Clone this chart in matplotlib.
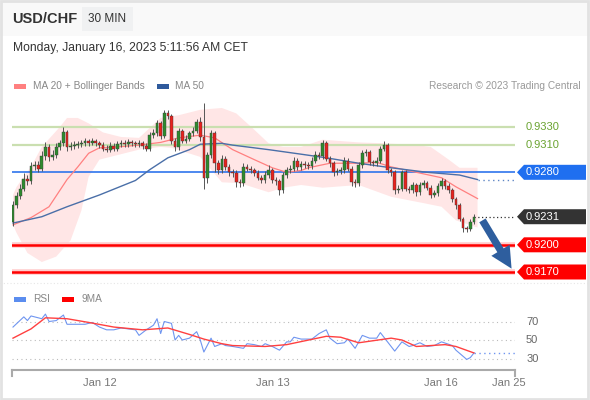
import matplotlib
matplotlib.use('Agg')
import matplotlib.pyplot as plt
import matplotlib.patches as patches
import matplotlib.transforms as mtransforms

plt.rcParams['font.family'] = ['Liberation Sans', 'DejaVu Sans']

W, H = 590, 400

# ---- candles (30 min bars, bar index 0 = Jan 11 ~12:00) ----
opens = [
    0.9225, 0.9244, 0.9254, 0.9262, 0.9273, 0.9270, 0.9287, 0.9288, 0.9284, 0.9298,
    0.9308, 0.9297, 0.9299, 0.9308, 0.9312, 0.9324, 0.9308, 0.9309, 0.9310, 0.9311,
    0.9312, 0.9314, 0.9312, 0.9314, 0.9312, 0.9310, 0.9306, 0.9305, 0.9309, 0.9306,
    0.9311, 0.9312, 0.9311, 0.9313, 0.9312, 0.9311, 0.9312, 0.9309, 0.9306, 0.9321,
    0.9323, 0.9334, 0.9320, 0.9345, 0.9342, 0.9315, 0.9308, 0.9326, 0.9315, 0.9317,
    0.9323, 0.9326, 0.9335, 0.9319, 0.9274, 0.9299, 0.9323, 0.9290, 0.9282, 0.9295,
    0.9286, 0.9280, 0.9279, 0.9269, 0.9268, 0.9286, 0.9284, 0.9282, 0.9279, 0.9274,
    0.9271, 0.9277, 0.9282, 0.9271, 0.9270, 0.9260, 0.9277, 0.9282, 0.9284, 0.9293,
    0.9286, 0.9289, 0.9288, 0.9287, 0.9293, 0.9299, 0.9298, 0.9312, 0.9295, 0.9290,
    0.9280, 0.9281, 0.9282, 0.9293, 0.9284, 0.9269, 0.9268, 0.9288, 0.9301, 0.9302,
    0.9291, 0.9290, 0.9293, 0.9306, 0.9310, 0.9282, 0.9280, 0.9260, 0.9262, 0.9280,
    0.9262, 0.9260, 0.9266, 0.9258, 0.9266, 0.9268, 0.9263, 0.9255, 0.9257, 0.9265,
    0.9270, 0.9265, 0.9260, 0.9250, 0.9244, 0.9229, 0.9218, 0.9217, 0.9225]
closes = [
    0.9244, 0.9254, 0.9262, 0.9273, 0.9270, 0.9287, 0.9288, 0.9284, 0.9298, 0.9308,
    0.9297, 0.9299, 0.9308, 0.9312, 0.9324, 0.9308, 0.9309, 0.9310, 0.9311, 0.9312,
    0.9314, 0.9312, 0.9314, 0.9312, 0.9310, 0.9306, 0.9305, 0.9309, 0.9306, 0.9311,
    0.9312, 0.9311, 0.9313, 0.9312, 0.9311, 0.9312, 0.9309, 0.9306, 0.9321, 0.9323,
    0.9334, 0.9320, 0.9345, 0.9342, 0.9315, 0.9308, 0.9326, 0.9315, 0.9317, 0.9323,
    0.9326, 0.9335, 0.9319, 0.9274, 0.9299, 0.9323, 0.9290, 0.9282, 0.9295, 0.9286,
    0.9280, 0.9279, 0.9269, 0.9268, 0.9286, 0.9284, 0.9282, 0.9279, 0.9274, 0.9271,
    0.9277, 0.9282, 0.9271, 0.9270, 0.9260, 0.9277, 0.9282, 0.9284, 0.9293, 0.9286,
    0.9289, 0.9288, 0.9287, 0.9293, 0.9299, 0.9298, 0.9312, 0.9295, 0.9290, 0.9280,
    0.9281, 0.9282, 0.9293, 0.9284, 0.9269, 0.9268, 0.9288, 0.9301, 0.9302, 0.9291,
    0.9290, 0.9293, 0.9306, 0.9310, 0.9282, 0.9280, 0.9260, 0.9262, 0.9280, 0.9262,
    0.9260, 0.9266, 0.9258, 0.9266, 0.9268, 0.9263, 0.9255, 0.9257, 0.9265, 0.9270,
    0.9265, 0.9260, 0.9250, 0.9244, 0.9229, 0.9218, 0.9217, 0.9225, 0.9231]
highs = [
    0.9248, 0.9258, 0.9267, 0.9279, 0.9277, 0.9291, 0.9293, 0.9292, 0.9303, 0.9313,
    0.9311, 0.9305, 0.9312, 0.9316, 0.9330, 0.9327, 0.9313, 0.9314, 0.9315, 0.9316,
    0.9318, 0.9317, 0.9318, 0.9317, 0.9315, 0.9313, 0.9310, 0.9313, 0.9312, 0.9315,
    0.9316, 0.9316, 0.9317, 0.9316, 0.9315, 0.9316, 0.9314, 0.9312, 0.9324, 0.9328,
    0.9338, 0.9337, 0.9349, 0.9349, 0.9344, 0.9318, 0.9329, 0.9328, 0.9321, 0.9326,
    0.9330, 0.9339, 0.9341, 0.9357, 0.9302, 0.9327, 0.9326, 0.9294, 0.9299, 0.9298,
    0.9289, 0.9284, 0.9282, 0.9273, 0.9290, 0.9289, 0.9287, 0.9285, 0.9282, 0.9277,
    0.9281, 0.9288, 0.9285, 0.9275, 0.9273, 0.9280, 0.9286, 0.9288, 0.9297, 0.9296,
    0.9293, 0.9292, 0.9291, 0.9297, 0.9303, 0.9302, 0.9316, 0.9314, 0.9298, 0.9293,
    0.9285, 0.9286, 0.9297, 0.9296, 0.9287, 0.9273, 0.9291, 0.9305, 0.9306, 0.9305,
    0.9294, 0.9297, 0.9309, 0.9315, 0.9312, 0.9285, 0.9283, 0.9266, 0.9283, 0.9282,
    0.9265, 0.9269, 0.9268, 0.9269, 0.9271, 0.9270, 0.9266, 0.9260, 0.9268, 0.9274,
    0.9273, 0.9268, 0.9263, 0.9253, 0.9246, 0.9231, 0.9221, 0.9228, 0.9234]
lows = [
    0.9221, 0.9241, 0.9251, 0.9259, 0.9266, 0.9267, 0.9282, 0.9280, 0.9281, 0.9294,
    0.9293, 0.9294, 0.9296, 0.9305, 0.9309, 0.9304, 0.9305, 0.9306, 0.9307, 0.9308,
    0.9309, 0.9309, 0.9310, 0.9309, 0.9307, 0.9303, 0.9302, 0.9302, 0.9303, 0.9303,
    0.9308, 0.9308, 0.9308, 0.9309, 0.9308, 0.9308, 0.9306, 0.9303, 0.9304, 0.9318,
    0.9320, 0.9317, 0.9318, 0.9339, 0.9311, 0.9304, 0.9305, 0.9312, 0.9312, 0.9314,
    0.9320, 0.9323, 0.9315, 0.9262, 0.9268, 0.9296, 0.9280, 0.9278, 0.9279, 0.9283,
    0.9276, 0.9275, 0.9264, 0.9264, 0.9265, 0.9281, 0.9279, 0.9276, 0.9271, 0.9268,
    0.9268, 0.9274, 0.9268, 0.9266, 0.9255, 0.9257, 0.9274, 0.9279, 0.9281, 0.9283,
    0.9283, 0.9285, 0.9284, 0.9284, 0.9290, 0.9295, 0.9295, 0.9292, 0.9286, 0.9276,
    0.9277, 0.9278, 0.9279, 0.9281, 0.9265, 0.9264, 0.9265, 0.9285, 0.9298, 0.9288,
    0.9287, 0.9287, 0.9290, 0.9303, 0.9279, 0.9276, 0.9256, 0.9257, 0.9259, 0.9259,
    0.9257, 0.9257, 0.9254, 0.9255, 0.9263, 0.9260, 0.9252, 0.9253, 0.9254, 0.9262,
    0.9262, 0.9257, 0.9247, 0.9240, 0.9226, 0.9214, 0.9214, 0.9215, 0.9223]

# ---- indicators (bar index, value) ----
ma50_idx = [0, 8, 15, 24, 34, 38, 43, 49, 52, 58, 61, 71, 80, 87, 96, 105, 115, 124, 129]
ma50_val = [0.9224, 0.9231, 0.9242, 0.9255, 0.9271, 0.9283, 0.9296, 0.9305, 0.9311, 0.9312,
            0.9310, 0.9305, 0.9300, 0.9296, 0.9290, 0.9285, 0.9280, 0.9277, 0.9272]
ma20_idx = [0, 5, 10, 15, 18, 21, 24, 29, 35, 41, 46, 52, 56, 61, 67, 72, 76, 80, 82, 88,
            96, 101, 105, 112, 119, 123, 129]
ma20_val = [0.9222, 0.9230, 0.9242, 0.9272, 0.9286, 0.9301, 0.9307, 0.9308, 0.9310, 0.9313,
            0.9318, 0.9321, 0.9318, 0.9305, 0.9294, 0.9285, 0.9280, 0.9282, 0.9285, 0.9290,
            0.9290, 0.9291, 0.9286, 0.9280, 0.9274, 0.9264, 0.9251]
bb_up_idx = [0, 1, 5, 8, 13, 15, 18, 21, 25, 30, 35, 41, 46, 52, 58, 62, 67, 71, 75, 80,
             86, 96, 103, 112, 116, 121, 124, 129]
bb_up_val = [0.9255, 0.9264, 0.9286, 0.9308, 0.9330, 0.9340, 0.9340, 0.9334, 0.9324, 0.9319,
             0.9318, 0.9340, 0.9343, 0.9349, 0.9351, 0.9345, 0.9327, 0.9312, 0.9308, 0.9308,
             0.9316, 0.9313, 0.9312, 0.9310, 0.9308, 0.9294, 0.9285, 0.9285]
bb_lo_idx = [0, 1, 4, 8, 12, 16, 19, 21, 24, 29, 35, 41, 44, 52, 58, 63, 71, 75, 80, 86,
             96, 105, 114, 119, 123, 129]
bb_lo_val = [0.9222, 0.9213, 0.9191, 0.9181, 0.9187, 0.9205, 0.9238, 0.9275, 0.9294, 0.9299,
             0.9305, 0.9308, 0.9307, 0.9297, 0.9269, 0.9268, 0.9258, 0.9263, 0.9266, 0.9263,
             0.9266, 0.9253, 0.9246, 0.9242, 0.9227, 0.9219]

rsi_idx = [0, 3, 4, 5, 7, 8, 9, 10, 12, 14, 15, 17, 20, 22, 24, 26, 28, 30, 32, 34, 35, 37,
           39, 40, 41, 42, 44, 45, 46, 47, 49, 51, 52, 53, 55, 56, 58, 59, 61, 64, 65, 67,
           69, 70, 72, 74, 76, 77, 78, 80, 83, 85, 87, 88, 90, 92, 93, 95, 97, 99, 101, 102,
           104, 106, 108, 110, 111, 113, 115, 117, 119, 122, 123, 126, 127, 128]
rsi_val = [64, 75, 71, 76, 74, 73, 78, 70, 71, 77, 67, 67, 67, 69, 64, 61, 61, 63, 62, 61, 55,
           61, 66, 73, 57, 70, 68, 50, 55, 50, 52, 59, 50, 37, 52, 43, 46, 44, 43, 41, 46, 45,
           43, 46, 43, 39, 48, 48, 53, 51, 51, 57, 61, 52, 46, 47, 51, 41, 55, 52, 52, 58,
           48, 38, 48, 43, 44, 47, 43, 44, 48, 44, 39, 29, 31, 36]
ma9_idx = [0, 5, 9, 15, 21, 28, 36, 43, 49, 53, 58, 61, 70, 76, 87, 91, 96, 105, 108, 112,
           120, 123, 128]
ma9_val = [52, 62, 74, 73, 69, 64, 61, 63, 56, 51, 46, 44, 43, 45, 54, 53, 47, 52, 50, 43,
           45, 43, 36]

levels_green = [0.9330, 0.9310]
pivot = 0.9280
last_price = 0.9231
levels_red = [0.9200, 0.9170]

tick_pos = [24.2, 72.1, 118.9, 137.8]
tick_lbl = ['Jan 12', 'Jan 13', 'Jan 16', 'Jan 25']

X_LEFT, X_RIGHT = -0.28, 139.4


def fx(x):
    return x / W


def fy(y):
    return 1 - y / H


fig = plt.figure(figsize=(W / 100, H / 100), dpi=100)
fig.patch.set_facecolor('white')

# header strip and frame
fig.patches.append(patches.Rectangle((0, fy(36)), 1, 36 / H, transform=fig.transFigure,
                                     facecolor='#f9f9f9', edgecolor='none', zorder=0))
fig.patches.append(patches.Rectangle((fx(82), fy(31)), 51 / W, 24 / H, transform=fig.transFigure,
                                     facecolor='#f0f1f2', edgecolor='none', zorder=1))
fig.patches.append(patches.Rectangle((0.002, 0.003), 0.995, 0.994, transform=fig.transFigure,
                                     facecolor='none', edgecolor='#e2e2e2', lw=2, zorder=5))

fig.text(fx(12), fy(19), 'USD/CHF', fontsize=10.5, fontweight='bold', color='#333333',
         ha='left', va='center')
fig.text(fx(107.5), fy(19), '30 MIN', fontsize=8.5, color='#333333', ha='center', va='center')
fig.text(fx(13), fy(48), 'Monday, January 16, 2023 5:11:56 AM CET', fontsize=8.7,
         color='#333333', ha='left', va='center')

# legends
def legend_box(x, y, color):
    fig.patches.append(patches.Rectangle((fx(x), fy(y + 3)), 12 / W, 5 / H,
                                         transform=fig.transFigure, facecolor=color,
                                         edgecolor='none'))


legend_box(14, 86, '#ff8080')
fig.text(fx(33), fy(86), 'MA 20 + Bollinger Bands', fontsize=7.3, color='#888888', va='center')
legend_box(157, 86, '#2f5a9c')
fig.text(fx(175), fy(86), 'MA 50', fontsize=7.3, color='#888888', va='center')
fig.text(fx(581), fy(86), 'Research \u00a9 2023 Trading Central', fontsize=7.3,
         color='#999999', ha='right', va='center')
legend_box(14, 299, '#5b8def')
fig.text(fx(33), fy(299), 'RSI', fontsize=7.3, color='#888888', va='center')
legend_box(62, 299, '#ff0000')
fig.text(fx(81), fy(299), '9MA', fontsize=7.3, color='#888888', va='center')

# panel separator
fig.lines.append(plt.Line2D([0, 1], [fy(283), fy(283)], transform=fig.transFigure,
                            color='#e6e6e6', lw=0.8, ls=(0, (1, 2))))

# ---- price panel ----
ax = fig.add_axes([fx(12), fy(280), 503 / W, 185 / H])
ax.set_xlim(X_LEFT, X_RIGHT)
ax.set_ylim(0.916117, 0.936531)
ax.axis('off')

band_x = bb_up_idx + bb_lo_idx[::-1]
band_y = bb_up_val + bb_lo_val[::-1]
ax.fill(band_x, band_y, color='#ffdede', alpha=0.75, lw=0, zorder=1)

for lv in levels_green:
    ax.axhline(lv, color='#cadfb0', lw=1.6, zorder=2)
ax.axhline(pivot, color='#2f74ec', lw=1.2, zorder=2)
for lv in levels_red:
    ax.axhline(lv, color='#ffcccc', lw=4, zorder=2)
    ax.axhline(lv, color='#ff0000', lw=1.8, zorder=2)

ax.plot(ma20_idx, ma20_val, color='#ff8080', lw=0.9, zorder=3)
ax.plot(ma50_idx, ma50_val, color='#4a6fa8', lw=1.0, zorder=3)
ax.plot([ma50_idx[-1], X_RIGHT], [ma50_val[-1], ma50_val[-1]], color='#5f86c4', lw=1,
        ls=(0, (1, 2.5)), zorder=3)

n = len(closes)
xs = list(range(n))
ax.vlines(xs, lows, highs, color='#555555', lw=0.7, zorder=4)
bottoms = [min(o, c) for o, c in zip(opens, closes)]
heights = [max(abs(c - o), 0.00006) for o, c in zip(opens, closes)]
colors = ['#2e8b2e' if c >= o else '#e8221d' for o, c in zip(opens, closes)]
ax.bar(xs, heights, bottom=bottoms, width=0.75, color=colors, edgecolor='#3a3a3a',
       lw=0.3, zorder=5)

ax.plot([n - 1, X_RIGHT], [last_price, last_price], color='#333333', lw=0.9,
        ls=(0, (1, 2)), zorder=3)

# forecast arrow
ax.annotate('', xy=(513, H - 271), xytext=(481, H - 218), xycoords='figure pixels',
            textcoords='figure pixels',
            arrowprops=dict(arrowstyle='simple,head_width=1.1,head_length=1.1,tail_width=0.38',
                            mutation_scale=14, color='#2e5e9e', lw=0))

# right-hand price tags
trans = mtransforms.blended_transform_factory(ax.transAxes, ax.transData)
half = 7.5 / 9062.5
tip = (517 - 12) / 503
body_l = (524 - 12) / 503
body_r = (586 - 12) / 503
txt_x = (526 - 12) / 503


def tag(price, face):
    poly = patches.Polygon([(tip, price), (body_l, price + half), (body_r, price + half),
                            (body_r, price - half), (body_l, price - half)],
                           closed=True, transform=trans, facecolor=face, edgecolor='none',
                           clip_on=False, zorder=6)
    ax.add_patch(poly)
    ax.text(txt_x, price, f'{price:.4f}', transform=trans, color='white', fontsize=8,
            ha='left', va='center', clip_on=False, zorder=7)


for lv in levels_green:
    ax.text(txt_x, lv, f'{lv:.4f}', transform=trans, color='#6aa330', fontsize=8,
            ha='left', va='center', clip_on=False)
tag(pivot, '#1f6ff0')
tag(last_price, '#333333')
for lv in levels_red:
    tag(lv, '#ff0000')

# ---- RSI panel ----
rax = fig.add_axes([fx(12), fy(370), 503 / W, 65 / H])
rax.set_xlim(X_LEFT, X_RIGHT)
rax.set_ylim(17.57, 87.84)
for s in ['top', 'right', 'left']:
    rax.spines[s].set_visible(False)
rax.spines['bottom'].set_color('#aaaaaa')
rax.spines['bottom'].set_linewidth(1.5)
rax.set_yticks([])
rax.set_xticks(tick_pos)
rax.set_xticklabels(tick_lbl, fontsize=8, color='#777777')
rax.tick_params(axis='x', length=0, pad=6)
rax.patch.set_alpha(0)
for xe in (0, 1):
    rax.plot([xe, xe], [0, -0.09], transform=rax.transAxes, color='#aaaaaa', lw=1.5,
             clip_on=False)

for lv in (70, 50, 30):
    rax.axhline(lv, color='#bbbbbb', lw=0.8, ls=(0, (1, 3)))
    rax.text(1.022, lv, str(lv), transform=mtransforms.blended_transform_factory(
        rax.transAxes, rax.transData), fontsize=8, color='#666666', ha='left', va='center',
        clip_on=False)

rax.plot(rsi_idx, rsi_val, color='#6f95f0', lw=0.8)
rax.plot(ma9_idx, ma9_val, color='#ff4040', lw=1.0)
rax.plot([rsi_idx[-1], X_RIGHT], [rsi_val[-1], rsi_val[-1]], color='#6f95f0', lw=1,
         ls=(0, (1, 2.5)))

fig.savefig('out.png', dpi=100, facecolor=fig.get_facecolor())
